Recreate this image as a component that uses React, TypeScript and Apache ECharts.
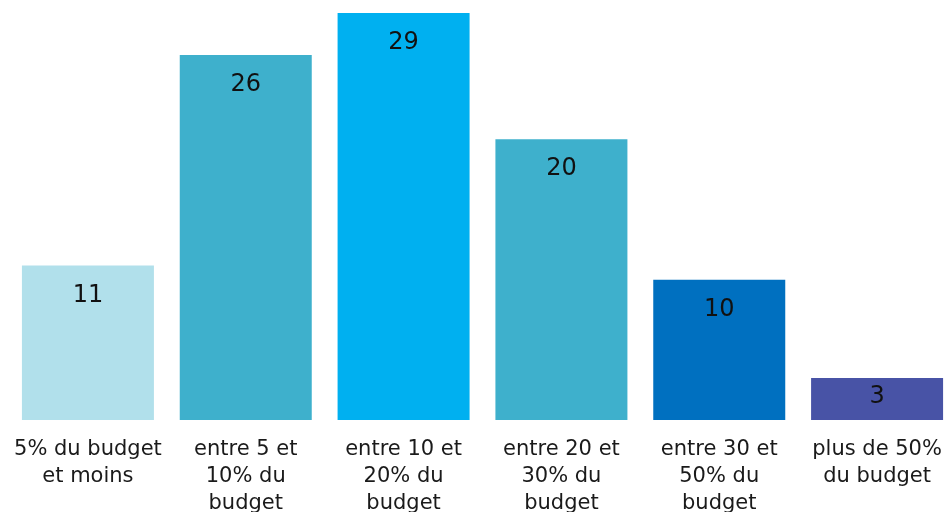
import React, { useEffect, useRef } from "react";
import * as echarts from "echarts";

const categories = [
  "5% du budget\net moins",
  "entre 5 et\n10% du\nbudget",
  "entre 10 et\n20% du\nbudget",
  "entre 20 et\n30% du\nbudget",
  "entre 30 et\n50% du\nbudget",
  "plus de 50%\ndu budget",
];
const values = [11, 26, 29, 20, 10, 3];
const barColors = ["#B1E0EB", "#3EB0CC", "#00B0F0", "#3EB0CC", "#0070C0", "#4853A6"];

const FONT = 'Verdana, "DejaVu Sans", sans-serif';

export default function App() {
  const ref = useRef<HTMLDivElement>(null);
  useEffect(() => {
    document.body.style.margin = "0";
    document.body.style.overflow = "hidden";
    document.documentElement.style.overflow = "hidden";
    const chart = echarts.init(ref.current!, null, { renderer: "svg" });
    chart.setOption({
      animation: false,
      grid: {
        left: 9,
        width: 947,
        top: 13,
        bottom: 92,
        containLabel: false,
        outerBoundsMode: "none",
      },
      xAxis: {
        type: "category",
        data: categories,
        axisLine: { show: false },
        axisTick: { show: false },
        axisLabel: {
          interval: 0,
          margin: 14,
          fontFamily: FONT,
          fontSize: 21,
          lineHeight: 27,
          color: "#1a1a1a",
          align: "center",
        },
      },
      yAxis: {
        type: "value",
        min: 0,
        max: 29,
        show: false,
        splitLine: { show: false },
      },
      series: [
        {
          type: "bar",
          barWidth: 132,
          data: values.map((v, i) => ({
            value: v,
            itemStyle: { color: barColors[i] },
            label: v < 5 ? { distance: 5 } : undefined,
          })),
          label: {
            show: true,
            position: "insideTop",
            distance: 16,
            fontFamily: FONT,
            fontSize: 24,
            lineHeight: 24,
            color: "#111111",
          },
        },
      ],
    });
    return () => chart.dispose();
  }, []);
  return (
    <div
      ref={ref}
      style={{ position: "fixed", left: 0, top: 0, width: 946, height: 512, overflow: "hidden" }}
    />
  );
}
